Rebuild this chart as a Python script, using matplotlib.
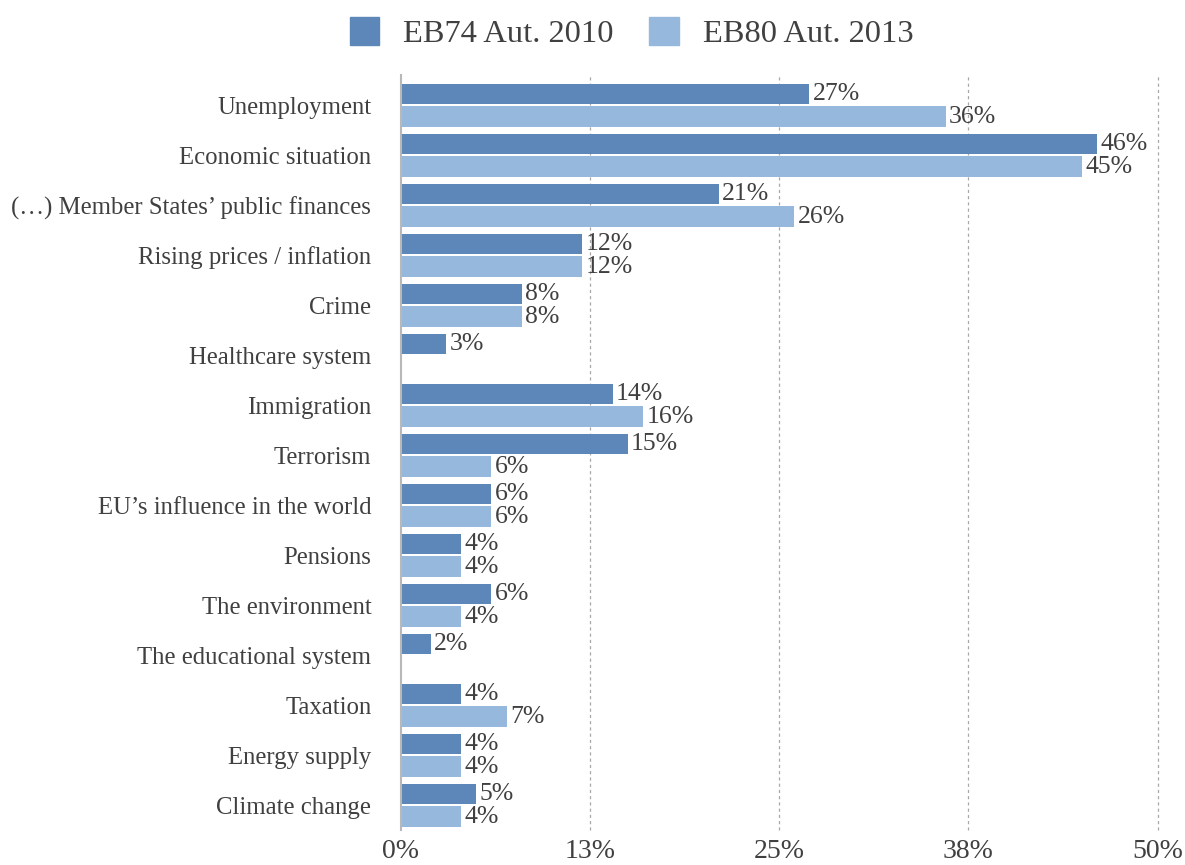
import numpy as np
import matplotlib.pyplot as plt
from matplotlib.patches import Patch

plt.rcParams['font.family'] = ['Liberation Serif', 'DejaVu Serif']

categories = [
    "Unemployment", "Economic situation", "(…) Member States’ public finances",
    "Rising prices / inflation", "Crime", "Healthcare system", "Immigration",
    "Terrorism", "EU’s influence in the world", "Pensions", "The environment",
    "The educational system", "Taxation", "Energy supply", "Climate change",
]
eb74_2010 = [27, 46, 21, 12, 8, 3, 14, 15, 6, 4, 6, 2, 4, 4, 5]
eb80_2013 = [36, 45, 26, 12, 8, np.nan, 16, 6, 6, 4, 4, np.nan, 7, 4, 4]
series_labels = ["EB74 Aut. 2010", "EB80 Aut. 2013"]
tick_values = [0, 12.5, 25, 37.5, 50]
tick_labels = ["0%", "13%", "25%", "38%", "50%"]

dark = "#5E87B9"
light = "#95B8DC"
text_col = "#404040"

fig = plt.figure(figsize=(11.85, 8.65), dpi=100)
ax = fig.add_axes([0.338, 0.040, 0.639, 0.873])

y = np.arange(len(categories))
h = 0.41
off = 0.225
ax.barh(y - off, eb74_2010, height=h, color=dark)
ax.barh(y + off, eb80_2013, height=h, color=light)

for yi, v in zip(y, eb74_2010):
    if not np.isnan(v):
        ax.annotate(f"{v:.0f}%", (v, yi - off), xytext=(2.5, 0), textcoords="offset points",
                    va="center", ha="left", fontsize=18.5, color=text_col)
for yi, v in zip(y, eb80_2013):
    if not np.isnan(v):
        ax.annotate(f"{v:.0f}%", (v, yi + off), xytext=(2.5, 0), textcoords="offset points",
                    va="center", ha="left", fontsize=18.5, color=text_col)

ax.set_ylim(len(categories) - 0.5, -0.6)
ax.set_xlim(0, 50)
ax.set_yticks(y)
ax.set_yticklabels(categories, fontsize=17.8, color=text_col)
ax.set_xticks(tick_values)
ax.set_xticklabels(tick_labels, fontsize=20, color=text_col)
ax.tick_params(length=0, pad=21, axis="y")
ax.tick_params(length=0, pad=6, axis="x")

for s in ["top", "right", "bottom"]:
    ax.spines[s].set_visible(False)
ax.spines["left"].set_color("#b8b8b8")
ax.spines["left"].set_linewidth(1.5)

for t in tick_values[1:]:
    ax.axvline(t, color="#a8a8a8", linestyle=(0, (2.5, 2.5)), linewidth=0.9,
               zorder=0, clip_on=False)

handles = [Patch(color=dark), Patch(color=light)]
fig.legend(handles, series_labels, loc="upper center", bbox_to_anchor=(0.533, 1.014),
           ncol=2, frameon=False, fontsize=23.4, handlelength=0.92, handleheight=0.92,
           columnspacing=1.08, handletextpad=0.74, labelcolor=text_col)

plt.savefig("out.png", dpi=100)
